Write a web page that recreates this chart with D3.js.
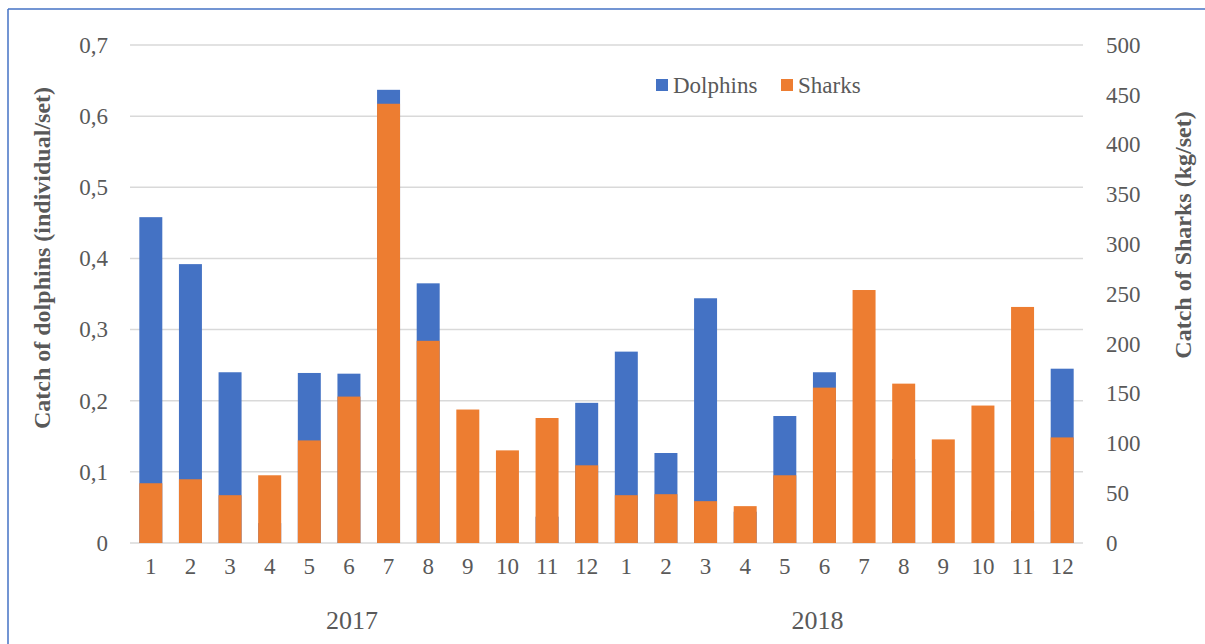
<!DOCTYPE html>
<html>
<head>
<meta charset="utf-8">
<script src="https://cdn.jsdelivr.net/npm/d3@7/dist/d3.min.js"></script>
<style>
  html, body { margin: 0; padding: 0; background: #fff; }
  svg { display: block; }
  svg text { font-family: "Liberation Serif", "Times New Roman", serif; }
</style>
</head>
<body>
<svg id="chart" width="1205" height="644"></svg>
<script>
// Monthly catch per set, 2017–2018
const years = ["2017", "2018"];
const monthLabels = ["1","2","3","4","5","6","7","8","9","10","11","12"];

// Dolphins, individuals per set (left axis)
const dolphins2017 = [0.458, 0.392, 0.240, 0.028, 0.239, 0.238, 0.637, 0.365, 0, 0, 0.037, 0.197];
const dolphins2018 = [0.269, 0.1265, 0.344, 0.044, 0.1785, 0.240, 0, 0.118, 0, 0, 0.045, 0.245];

// Sharks, kg per set (right axis)
const sharks2017 = [60, 64, 48, 68, 103, 147, 441, 203, 134, 93, 125.5, 78];
const sharks2018 = [48, 49, 42, 37, 68, 156, 254, 160, 104, 138, 237, 106];

const leftTicks = [0, 0.1, 0.2, 0.3, 0.4, 0.5, 0.6, 0.7];
const rightTicks = [0, 50, 100, 150, 200, 250, 300, 350, 400, 450, 500];

const seriesNames = ["Dolphins", "Sharks"];
const colors = { Dolphins: "#4472C4", Sharks: "#ED7D31" };

const FONT = "Liberation Serif, Times New Roman, serif";

// Build one row per month
const rows = [];
years.forEach((yr, yi) => {
  const d = yi === 0 ? dolphins2017 : dolphins2018;
  const s = yi === 0 ? sharks2017 : sharks2018;
  monthLabels.forEach((m, mi) => {
    rows.push({ key: yr + "-" + m, year: yr, month: m, dolphins: d[mi], sharks: s[mi] });
  });
});

const svg = d3.select("#chart");
const textColor = "#595959";
const plot = { left: 131, right: 1082, top: 45, bottom: 543 };

const x = d3.scaleBand()
  .domain(rows.map(r => r.key))
  .range([plot.left, plot.right])
  .paddingInner(0.42)
  .paddingOuter(0.21);

const yLeft = d3.scaleLinear().domain([0, 0.7]).range([plot.bottom, plot.top]);
const yRight = d3.scaleLinear().domain([0, 500]).range([plot.bottom, plot.top]);

// Frame lines
svg.append("line").attr("x1", 8).attr("x2", 1205).attr("y1", 9).attr("y2", 9)
  .attr("stroke", "#4472C4").attr("stroke-width", 1.5);
svg.append("line").attr("x1", 8).attr("x2", 8).attr("y1", 9).attr("y2", 644)
  .attr("stroke", "#4472C4").attr("stroke-width", 1.5);

// Gridlines (left axis)
svg.append("g")
  .selectAll("line")
  .data(leftTicks)
  .join("line")
  .attr("x1", plot.left - 1)
  .attr("x2", plot.right + 1)
  .attr("y1", d => yLeft(d))
  .attr("y2", d => yLeft(d))
  .attr("stroke", "#d9d9d9")
  .attr("stroke-width", 1.5);

// Left axis
const leftAxis = svg.append("g")
  .attr("transform", `translate(${plot.left - 20},0)`)
  .call(d3.axisLeft(yLeft).tickValues(leftTicks).tickSize(0)
    .tickFormat(d => d === 0 ? "0" : d3.format(".1f")(d).replace(".", ",")));
leftAxis.attr("font-family", FONT);
leftAxis.select(".domain").remove();
leftAxis.selectAll("text").attr("fill", textColor).attr("font-size", 23).attr("dx", 0);

// Right axis
const rightAxis = svg.append("g")
  .attr("transform", `translate(${plot.right + 21},0)`)
  .call(d3.axisRight(yRight).tickValues(rightTicks).tickSize(0));
rightAxis.attr("font-family", FONT);
rightAxis.select(".domain").remove();
rightAxis.selectAll("text").attr("fill", textColor).attr("font-size", 23).attr("dx", 0);

// Dolphin bars behind, shark bars in front
svg.append("g")
  .selectAll("rect")
  .data(rows)
  .join("rect")
  .attr("x", d => x(d.key))
  .attr("width", x.bandwidth())
  .attr("y", d => yLeft(d.dolphins))
  .attr("height", d => yLeft(0) - yLeft(d.dolphins))
  .attr("fill", colors.Dolphins);

svg.append("g")
  .selectAll("rect")
  .data(rows)
  .join("rect")
  .attr("x", d => x(d.key))
  .attr("width", x.bandwidth())
  .attr("y", d => yRight(d.sharks))
  .attr("height", d => yRight(0) - yRight(d.sharks))
  .attr("fill", colors.Sharks);

// Month labels
const xAxis = svg.append("g")
  .attr("transform", `translate(0,${plot.bottom + 12})`)
  .call(d3.axisBottom(x).tickSize(0).tickFormat(k => k.split("-")[1]));
xAxis.attr("font-family", FONT);
xAxis.select(".domain").remove();
xAxis.selectAll("text").attr("fill", textColor).attr("font-size", 23);

// Year labels
svg.append("g")
  .selectAll("text")
  .data(years)
  .join("text")
  .attr("x", yr => x(yr + "-6") + x.bandwidth() / 2 + (yr === "2017" ? 3 : -7))
  .attr("y", 629)
  .attr("text-anchor", "middle")
  .attr("font-family", FONT)
  .attr("fill", textColor)
  .attr("font-size", 26)
  .text(yr => yr);

// Axis titles
svg.append("text")
  .attr("transform", "translate(50,258) rotate(-90)")
  .attr("text-anchor", "middle")
  .attr("font-family", FONT)
  .attr("font-weight", "bold")
  .attr("font-size", 24)
  .attr("fill", textColor)
  .text("Catch of dolphins (individual/set)");

svg.append("text")
  .attr("transform", "translate(1191,235) rotate(-90)")
  .attr("text-anchor", "middle")
  .attr("font-family", FONT)
  .attr("font-weight", "bold")
  .attr("font-size", 24)
  .attr("fill", textColor)
  .text("Catch of Sharks (kg/set)");

// Legend
const legend = svg.append("g").attr("font-family", FONT);
const legendX = { Dolphins: 656, Sharks: 781 };
seriesNames.forEach(name => {
  legend.append("rect")
    .attr("x", legendX[name]).attr("y", 79)
    .attr("width", 12).attr("height", 12)
    .attr("fill", colors[name]);
  legend.append("text")
    .attr("x", legendX[name] + 17).attr("y", 93)
    .attr("fill", textColor)
    .attr("font-size", 23)
    .text(name);
});
</script>
</body>
</html>
